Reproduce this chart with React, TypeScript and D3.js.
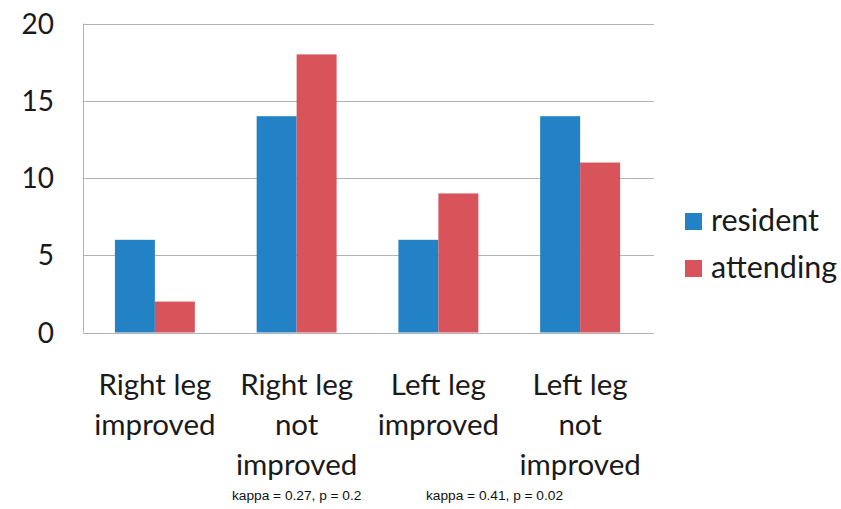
import React from "react";
import * as d3 from "d3";

const categories = [["Right leg", "improved"], ["Right leg", "not", "improved"], ["Left leg", "improved"], ["Left leg", "not", "improved"]];
const seriesNames = ["resident", "attending"];
const resident = [6, 14, 6, 14];
const attending = [2, 18, 9, 11];
const yTicks = [0, 5, 10, 15, 20];
const notes = ["kappa = 0.27, p = 0.2", "kappa = 0.41, p = 0.02"];
const colors = ["#2282c5", "#d9545a"];

export default function App() {
  const W = 841, H = 509;
  const left = 83, right = 654, top = 23.5, bottom = 332.5;
  const x = d3.scaleBand<number>().domain(d3.range(categories.length)).range([84, 651]).paddingInner(0.436).paddingOuter(0.218);
  const xs = d3.scaleBand<number>().domain([0, 1]).range([0, x.bandwidth()]);
  const y = d3.scaleLinear().domain([0, 20]).range([bottom, top]);
  const series = [resident, attending];
  const font = "Lato, Open Sans, sans-serif";
  return (
    <svg width={W} height={H} style={{ position: "absolute", left: 0, top: 0 }} fontFamily={font}>
      <rect width={W} height={H} fill="#fff" />
      {yTicks.map((t) => (
        <g key={t}>
          <line x1={left} x2={right} y1={Math.round(y(t)) + 0.5} y2={Math.round(y(t)) + 0.5} stroke="#b3b3b3" strokeWidth={1} />
          <text x={54} y={y(t)} dy="0.36em" textAnchor="end" fontSize={28} fill="#1a1a1a">{t}</text>
        </g>
      ))}
      <line x1={left + 0.5} x2={left + 0.5} y1={top} y2={bottom} stroke="#b3b3b3" />
      {series.map((vals, si) =>
        vals.map((v, i) => (
          <rect key={si + "-" + i} x={(x(i) as number) + (xs(si) as number)} y={y(v)} width={xs.bandwidth()} height={y(0) - y(v)} fill={colors[si]} />
        ))
      )}
      {categories.map((lines, i) => (
        <text key={i} textAnchor="middle" fontSize={29.5} fill="#1a1a1a">
          {lines.map((l, j) => (
            <tspan key={j} x={(x(i) as number) + x.bandwidth() / 2} y={395 + j * 40}>{l}</tspan>
          ))}
        </text>
      ))}
      {seriesNames.map((n, i) => (
        <g key={n}>
          <rect x={685} y={213 + i * 47} width={17} height={17} fill={colors[i]} />
          <text x={711} y={231 + i * 47} fontSize={30.5} fill="#1a1a1a">{n}</text>
        </g>
      ))}
      {notes.map((n, i) => (
        <text key={n} x={[232, 426][i]} y={500} fontSize={13.7} fontFamily="Liberation Sans, Arial, sans-serif" fill="#111">{n}</text>
      ))}
    </svg>
  );
}
